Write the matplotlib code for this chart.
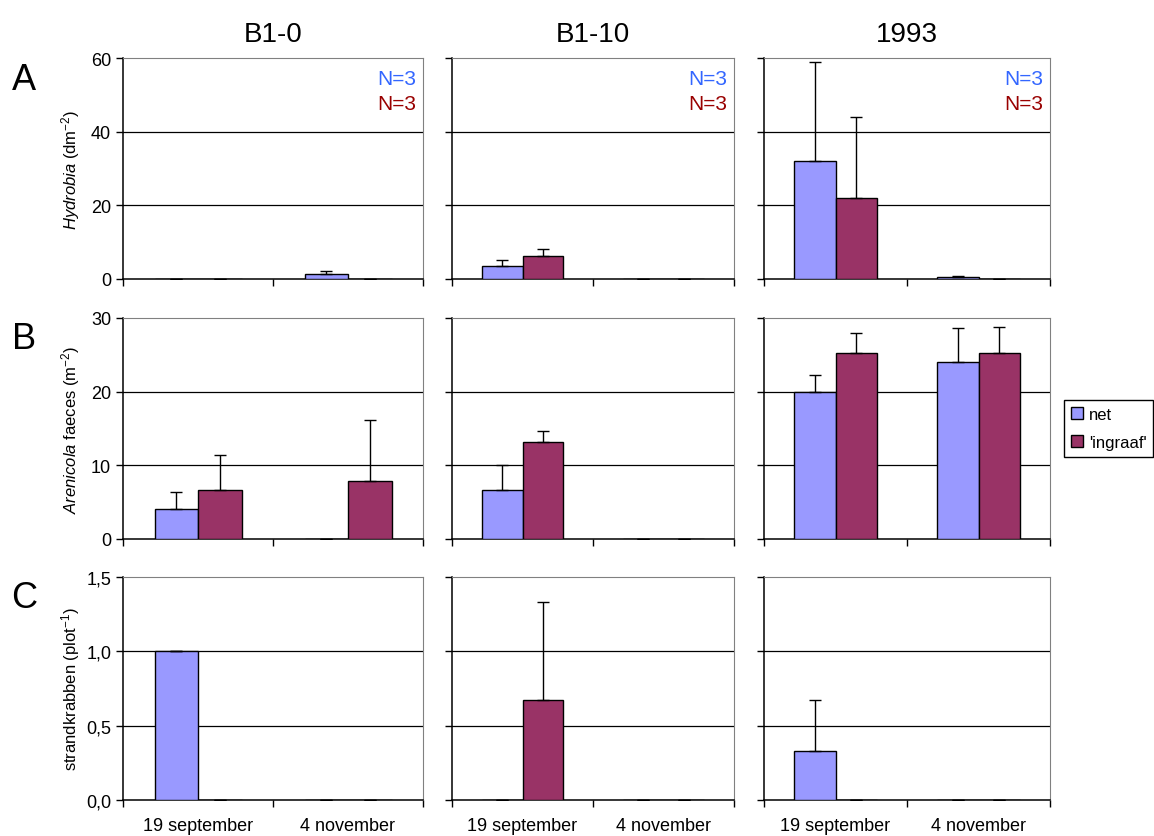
import numpy as np
import matplotlib
matplotlib.use("Agg")
import matplotlib.pyplot as plt
from matplotlib.patches import Patch

plt.rcParams['font.family'] = ['Liberation Sans', 'DejaVu Sans']
plt.rcParams['mathtext.fontset'] = 'custom'
plt.rcParams['mathtext.rm'] = 'Liberation Sans'
plt.rcParams['mathtext.it'] = 'Liberation Sans:italic'

# data
sites = ['B1-0', 'B1-10', '1993']
dates = ['19 september', '4 november']
series = ['net', "'ingraaf'"]

# Hydrobia (dm-2): per site, [19 sep, 4 nov]
hyd_net = [[0, 1.3], [3.5, 0], [32, 0.5]]
hyd_net_err = [[0, 0.8], [1.7, 0], [27, 0.3]]
hyd_ing = [[0, 0], [6.2, 0], [22, 0]]
hyd_ing_err = [[0, 0], [2.0, 0], [22, 0]]

# Arenicola faeces (m-2)
are_net = [[4.1, 0], [6.6, 0], [20, 24]]
are_net_err = [[2.3, 0], [3.5, 0], [2.3, 4.6]]
are_ing = [[6.6, 7.9], [13.2, 0], [25.3, 25.3]]
are_ing_err = [[4.8, 8.2], [1.4, 0], [2.7, 3.5]]

# strandkrabben (plot-1)
krab_net = [[1.0, 0], [0, 0], [0.33, 0]]
krab_net_err = [[0, 0], [0, 0], [0.34, 0]]
krab_ing = [[0, 0], [0.67, 0], [0, 0]]
krab_ing_err = [[0, 0], [0.66, 0], [0, 0]]

rows = [
    ('A', r'$\mathit{Hydrobia}$ (dm$^{-2}$)', [0, 20, 40, 60], ['0', '20', '40', '60'],
     hyd_net, hyd_net_err, hyd_ing, hyd_ing_err),
    ('B', r'$\mathit{Arenicola}$ faeces (m$^{-2}$)', [0, 10, 20, 30], ['0', '10', '20', '30'],
     are_net, are_net_err, are_ing, are_ing_err),
    ('C', r'strandkrabben (plot$^{-1}$)', [0, 0.5, 1.0, 1.5], ['0,0', '0,5', '1,0', '1,5'],
     krab_net, krab_net_err, krab_ing, krab_ing_err),
]

c_net = '#9999FF'
c_ing = '#993366'

fig = plt.figure(figsize=(11.54, 8.37), dpi=100)
H = 837.0
W = 1154.0
cols_px = [(123, 423), (452, 734), (764, 1050)]
rows_px = [(59, 280), (319, 540), (578, 801)]

x = np.arange(len(dates))
bw = 0.29

for r, (letter, ylab, yt, ytl, net, net_err, ing, ing_err) in enumerate(rows):
    top, bot = rows_px[r]
    for c, site in enumerate(sites):
        l, rr = cols_px[c]
        ax = fig.add_axes([l / W, 1 - bot / H, (rr - l) / W, (bot - top) / H])
        ax.bar(x - bw / 2, net[c], bw, color=c_net, edgecolor='black', linewidth=1.0, zorder=3)
        ax.bar(x + bw / 2, ing[c], bw, color=c_ing, edgecolor='black', linewidth=1.0, zorder=3)
        # only the upper half of the error bars
        ax.errorbar(x - bw / 2, net[c], yerr=[[0, 0], net_err[c]], fmt='none', ecolor='black',
                    elinewidth=1.0, capsize=4, capthick=1.0, zorder=4)
        ax.errorbar(x + bw / 2, ing[c], yerr=[[0, 0], ing_err[c]], fmt='none', ecolor='black',
                    elinewidth=1.0, capsize=4, capthick=1.0, zorder=4)
        ax.set_xlim(-0.5, 1.5)
        ax.set_ylim(yt[0], yt[-1])
        ax.set_yticks(yt)
        for v in yt[1:-1]:
            ax.axhline(v, color='black', linewidth=0.9, zorder=1)
        ax.set_xticks(x)
        ax.set_xticks([-0.5, 0.5, 1.5], minor=True)
        ax.tick_params(axis='x', which='major', length=0)
        ax.tick_params(axis='x', which='minor', length=5, direction='out', width=1)
        ax.tick_params(axis='y', length=5, direction='out', width=1, labelsize=13)
        if r == 2:
            ax.set_xticklabels(dates, fontsize=13)
            ax.tick_params(axis='x', which='major', pad=12)
        else:
            ax.set_xticklabels([])
        if c == 0:
            ax.set_yticklabels(ytl)
            ax.set_ylabel(ylab, fontsize=12)
            ax.yaxis.set_label_coords((82 - l) / (rr - l), 0.5)
        else:
            ax.set_yticklabels([])
        for s in ['top', 'right']:
            ax.spines[s].set_color('#808080')
        for s in ['left', 'bottom']:
            ax.spines[s].set_color('black')
            ax.spines[s].set_linewidth(1.1)
        if r == 0:
            ax.set_title(site, fontsize=20, pad=12)
            ax.text(0.977, 0.905, 'N=3', transform=ax.transAxes, ha='right', va='center',
                    fontsize=15, color='#3366FF')
            ax.text(0.977, 0.796, 'N=3', transform=ax.transAxes, ha='right', va='center',
                    fontsize=15, color='#990000')
    fig.text(24 / W, 1 - (top + 21) / H, letter, fontsize=26, ha='center', va='center')

handles = [Patch(facecolor=c_net, edgecolor='black'), Patch(facecolor=c_ing, edgecolor='black')]
fig.legend(handles, series, loc='upper left', bbox_to_anchor=(1064 / W, 1 - 401 / H),
           fontsize=12, frameon=True, fancybox=False, edgecolor='black', framealpha=1,
           handlelength=0.75, handleheight=0.75, handletextpad=0.35, borderpad=0.4,
           labelspacing=0.8, borderaxespad=0)

fig.savefig('out.png', dpi=100)
